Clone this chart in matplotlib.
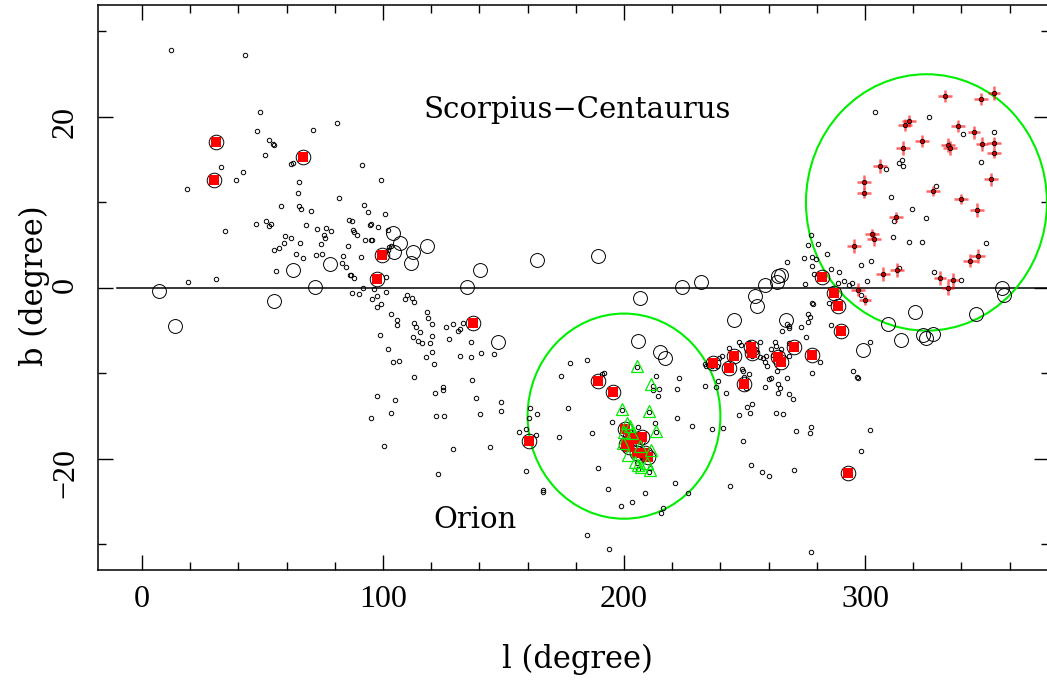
import matplotlib
matplotlib.use('Agg')
import matplotlib.pyplot as plt
from matplotlib.patches import Ellipse
import numpy as np

# small open circles (l, b)
small_l = [12.0, 42.7, 49.0, 47.7, 80.9, 71.0, 52.7, 54.4, 54.8, 51.0, 32.8, 41.9, 39.0, 18.7, 62.7, 61.8,
           65.1, 64.7, 81.7, 57.7, 65.1, 66.0, 70.1, 47.3, 51.5, 52.7, 53.5, 68.0, 72.6, 76.3, 78.4, 75.5,
           75.9, 59.3, 61.8, 58.9, 65.6, 74.3, 54.8, 56.8, 85.5, 63.9, 66.8, 72.2, 74.7, 83.4, 83.0, 84.6,
           55.6, 34.4, 19.1, 30.7, 86.3, 85.9,
           91.3, 99.2, 92.1, 93.8, 100.8, 87.1, 87.6, 88.0, 89.2, 94.6, 95.0, 97.9, 102.1, 92.5, 95.0, 95.4,
           90.9, 86.7, 88.0, 101.2, 102.1, 102.5, 103.3, 96.3, 87.1, 90.0, 91.7, 97.5, 101.2, 110.0, 112.0,
           277.6, 276.3, 280.5, 267.6, 274.7, 278.0, 279.7, 284.2, 278.0, 278.8, 275.1, 285.9, 289.2, 288.8,
           291.3, 293.4, 294.6,
           304.1, 326.6, 340.7, 353.5, 348.1, 315.4, 314.1, 315.8, 308.7, 329.5, 310.8, 319.5, 325.3, 312.0,
           311.6, 318.3, 323.7, 350.2, 302.5, 298.3, 300.8, 314.1, 328.6, 339.8, 298.3, 278.0, 278.4, 285.0,
           285.9, 276.3, 277.2, 273.4, 276.3, 268.5, 267.6, 265.6, 275.5, 302.1,
           95.4, 99.2, 97.5, 109.1, 112.9, 103.3, 105.8, 105.8, 98.8, 102.1, 104.1, 106.6, 112.4, 114.5, 116.2,
           112.9, 113.7, 115.4, 118.3, 118.7, 120.3, 119.5, 120.3, 120.3, 117.8, 121.2, 112.9, 97.5, 105.0,
           103.3, 95.0, 100.4, 122.8, 121.6, 124.9, 124.9, 125.3, 122.0, 126.1, 129.0, 127.4, 131.1, 132.0,
           133.2, 136.5, 140.7, 146.1, 136.5, 132.0, 136.9, 138.6, 140.2, 149.0, 149.0, 144.4, 129.0, 156.4,
           159.3, 161.0, 160.6, 163.9, 163.5, 159.3, 166.4, 166.4, 173.0, 176.8, 173.9, 177.6, 184.6, 186.7,
           189.2, 193.4, 198.8, 203.3, 208.7, 184.6, 193.8, 190.9, 191.7, 195.0, 213.3, 212.0, 212.0, 214.5,
           214.1, 222.8, 222.0, 222.0, 228.2, 221.2, 226.6, 216.2, 215.4, 205.4, 210.4, 199.2, 213.3, 205.8,
           208.7, 205.4, 210.8, 210.4, 205.8,
           247.7, 248.5, 243.6, 240.7, 239.4, 233.6, 234.0, 236.5, 238.6, 238.2, 233.6, 242.3, 239.0, 251.9,
           256.4, 262.7, 263.1, 265.1, 268.5, 268.5, 261.0, 258.9, 258.5, 259.3, 261.0, 260.2, 263.5, 263.9,
           264.7, 263.9, 263.1, 266.0, 268.5, 270.1, 267.6, 251.9, 249.0, 249.4, 251.0, 253.1, 252.3, 247.7,
           250.6, 271.4, 277.2, 277.6, 278.0, 281.3, 295.0, 296.7, 297.1, 302.1, 298.3, 249.4, 252.7, 257.3,
           260.2, 270.5, 244.0, 277.6, 241.1, 236.5, 212.9, 256.4, 257.7, 244.8, 242.7, 249.8, 253.1, 254.8,
           261.8, 258.5, 268.5]
small_b = [27.8, 27.3, 20.6, 18.4, 19.3, 18.5, 17.3, 16.8, 16.7, 15.6, 14.1, 13.6, 12.6, 11.6, 14.6, 14.5,
           12.4, 11.1, 10.5, 9.6, 9.6, 9.2, 9.0, 7.5, 7.8, 7.3, 7.5, 7.4, 6.9, 7.0, 6.7, 6.2,
           5.8, 6.1, 5.8, 5.3, 5.3, 5.1, 4.4, 4.7, 4.9, 4.0, 3.5, 3.9, 4.0, 3.7, 2.9, 2.5,
           2.0, 6.7, 0.7, 1.1, 1.5, 8.0,
           14.4, 12.6, 9.7, 8.9, 8.7, 7.8, 6.8, 6.5, 6.2, 7.4, 7.5, 7.1, 6.8, 5.6, 5.6, 5.6,
           3.6, 1.5, 1.2, 1.3, 4.4, 4.8, 4.9, -0.1, -0.6, -0.7, 0.0, -0.9, -0.5, -0.8, -1.2,
           6.2, 5.0, 5.1, 3.0, 3.5, 3.6, 3.4, 4.0, 2.6, 1.6, 0.5, 2.2, 1.9, 0.6,
           0.8, 0.4, 0.6,
           20.6, 20.0, 18.0, 18.2, 14.7, 15.0, 14.6, 14.3, 13.9, 11.9, 10.6, 9.2, 8.2, 7.8,
           6.0, 5.4, 5.4, 5.3, 3.2, 2.7, 0.8, 2.3, 1.9, 0.9, -0.8, -1.8, -1.9, -1.8,
           -4.3, -3.0, -3.4, -4.6, -4.0, -4.4, -4.2, -5.0, -5.7, -6.3,
           -1.3, -1.9, -2.2, -1.3, -1.6, -3.0, -3.7, -4.3, -5.5, -7.1, -8.7, -8.5, -5.7, -6.2, -6.4,
           -4.1, -4.6, -5.1, -2.8, -3.5, -4.2, -6.5, -5.6, -7.5, -8.1, -8.9, -10.4, -12.6, -13.1,
           -14.6, -15.2, -18.5, -21.8, -12.3, -11.6, -11.9, -15.0, -15.0, -4.6, -4.2, -6.0, -5.0, -4.8,
           -4.1, -6.3, -7.6, -7.7, -8.1, -8.0, -10.8, -12.9, -14.7, -13.3, -14.4, -18.6, -18.9, -16.8,
           -16.5, -14.0, -15.2, -14.7, -17.2, -21.4, -23.6, -23.9, -17.4, -14.0, -10.3, -8.8, -8.4, -17.0,
           -21.1, -23.5, -25.5, -25.0, -24.0, -28.9, -30.5, -10.1, -9.9, -15.7, -10.3, -11.5, -11.9, -11.8,
           -12.6, -10.5, -11.8, -15.2, -16.1, -22.8, -24.0, -25.7, -26.3, -9.2, -14.5, -14.3, -16.8, -16.3,
           -19.9, -20.5, -21.1, -21.5, -21.2,
           -6.3, -6.7, -7.0, -8.0, -8.2, -8.9, -9.1, -9.1, -9.1, -11.6, -11.5, -12.3, -10.9, -6.5,
           -6.3, -6.3, -6.8, -7.1, -6.4, -8.0, -7.1, -8.0, -8.7, -9.1, -10.5, -10.6, -9.7, -11.2,
           -11.7, -12.3, -14.6, -14.7, -12.4, -13.0, -10.5, -10.1, -9.5, -9.7, -13.9, -13.6, -14.6, -14.9,
           -11.7, -16.7, -17.0, -16.3, -9.9, -8.7, -9.7, -10.4, -10.5, -16.6, -19.1, -17.9, -20.7, -21.5,
           -22.0, -21.3, -23.2, -30.9, -16.4, -16.5, -15.8, -8.1, -8.2, -8.1, -9.2, -10.4, -8.0, -7.5,
           -7.8, -11.6, -4.7]

# large open circles
big_l = [7.1, 13.7, 54.8, 62.7, 71.8, 78.2, 104.1, 107.0, 104.6, 112.4, 111.6, 118.3, 140.2, 134.9, 163.9,
         189.2, 206.6, 224.0, 232.0, 147.7, 205.8, 214.9, 217.0, 258.5, 263.5, 264.0, 265.0, 254.4, 255.2,
         245.6, 267.2, 299.2, 309.5, 314.9, 320.7, 324.0, 325.3, 328.2, 346.0, 356.8, 357.7]
big_b = [-0.4, -4.4, -1.5, 2.1, 0.1, 2.8, 6.4, 5.3, 4.2, 4.2, 2.9, 4.9, 2.1, 0.1, 3.3,
         3.7, -1.2, 0.1, 0.7, -6.3, -6.2, -7.5, -8.2, 0.4, 0.7, 1.4, 1.5, -1.0, -2.1,
         -3.7, -3.7, -7.3, -4.2, -6.1, -2.8, -5.5, -5.8, -5.4, -3.0, 0.0, -0.8]

# red squares (each inside a circle)
sq_l = [30.7, 29.9, 66.8, 99.6, 97.5, 137.4, 160.6, 189.2, 195.4, 200.4, 202.5, 205.8, 207.5, 200.8,
        202.1, 205.4, 208.7, 210.0, 282.2, 287.0, 288.8, 290.0, 270.5, 278.0, 263.9, 265.1, 252.7,
        253.1, 245.6, 243.6, 236.9, 249.8, 293.0]
sq_b = [17.1, 12.6, 15.3, 3.8, 1.0, -4.1, -17.9, -10.9, -12.2, -16.5, -17.4, -17.7, -17.4, -18.3,
        -18.6, -19.3, -19.3, -19.8, 1.3, -0.6, -2.1, -5.0, -6.9, -7.8, -8.1, -8.7, -6.9,
        -7.6, -8.0, -9.4, -8.8, -11.2, -21.6]

# Orion triangles
tri_l = [205.4, 211.2, 199.2, 210.4, 213.3, 201.2, 199.6, 201.7, 204.6, 209.5, 210.8, 205.8, 200.0,
         203.5, 206.5, 211.0, 207.0, 202.5]
tri_b = [-9.1, -11.2, -14.2, -14.4, -16.7, -15.8, -18.1, -19.5, -20.4, -20.5, -21.3, -20.7, -16.8,
         -17.0, -18.5, -19.0, -21.0, -16.2]

# Sco-Cen members with errors
sc_l = [333.2, 348.1, 353.5, 318.3, 316.6, 338.6, 345.2, 323.7, 334.4, 335.3, 348.5, 353.5, 353.5,
        315.8, 306.2, 352.3, 299.6, 299.6, 328.2, 339.8, 346.5, 312.9, 302.9, 303.7, 295.4, 346.9,
        343.6, 313.3, 307.5, 331.1, 336.5, 334.4, 297.1, 300.0]
sc_b = [22.5, 22.1, 22.8, 19.5, 19.1, 18.9, 18.2, 17.2, 16.7, 16.4, 16.8, 17.0, 15.8,
        16.4, 14.3, 12.7, 12.4, 11.1, 11.3, 10.4, 9.1, 8.3, 6.3, 5.7, 4.9, 3.7,
        3.2, 2.1, 1.6, 1.2, 0.9, 0.0, -0.2, -1.4]
sc_lerr = [2.8, 3.0, 2.5, 2.8, 2.8, 2.8, 2.5, 2.8, 2.8, 2.8, 2.5, 2.8, 2.8,
           2.8, 2.8, 2.8, 2.8, 2.8, 2.8, 2.8, 2.8, 2.8, 2.8, 2.8, 2.8, 2.8,
           2.8, 2.8, 2.8, 2.5, 2.5, 2.5, 2.8, 2.5]
sc_berr = [0.7, 0.7, 0.8, 0.7, 0.7, 0.7, 0.8, 0.7, 0.8, 0.8, 0.8, 0.6, 0.6,
           0.8, 0.8, 0.8, 0.8, 0.6, 0.6, 0.6, 0.8, 0.6, 0.6, 0.8, 0.8, 0.8,
           0.8, 0.8, 0.8, 0.8, 0.8, 0.8, 0.8, 0.6]

plt.rcParams['font.family'] = ['DejaVu Serif']

fig = plt.figure(figsize=(10.47, 6.81), dpi=100)
ax = fig.add_axes([98 / 1047, 1 - 570 / 681, (1049 - 98) / 1047, 565 / 681])

# galactic plane
ax.plot([-10.4, 400], [0, 0], color='black', lw=1.1, zorder=1)

ax.add_patch(Ellipse((200, -15), 80, 24, fill=False, ec='#00ee00', lw=1.5, zorder=2))
ax.add_patch(Ellipse((325.5, 10), 100, 30, fill=False, ec='#00ee00', lw=1.5, zorder=2))

ax.plot(small_l, small_b, 'o', ms=3.2, mfc='none', mec='black', mew=0.7, zorder=3)
ax.plot(big_l, big_b, 'o', ms=10, mfc='none', mec='black', mew=0.7, zorder=3)
ax.plot(sq_l, sq_b, 'o', ms=10.5, mfc='none', mec='black', mew=0.7, zorder=4)
ax.plot(sq_l, sq_b, 's', ms=7, mfc='red', mec='red', mew=0, zorder=5)
ax.plot(tri_l, tri_b, '^', ms=9, mfc='none', mec='#00ee00', mew=0.9, zorder=6)

ax.errorbar(sc_l, sc_b, xerr=sc_lerr, yerr=sc_berr, fmt='none', ecolor='red', elinewidth=1.8,
            alpha=0.6, capsize=0, zorder=6)
ax.plot(sc_l, sc_b, 'o', ms=3.2, mfc='#cc0000', mec='black', mew=0.6, zorder=7)

ax.text(180.7, 19.9, 'Scorpius\u2212Centaurus', ha='center', va='baseline', fontsize=21)
ax.text(138.2, -28.1, 'Orion', ha='center', va='baseline', fontsize=21)

ax.set_xlim((98 - 142) / 2.41, (1049 - 142) / 2.41)
ax.set_ylim(-33.0, 33.1)
ax.set_xticks([0, 100, 200, 300])
ax.set_xticks(np.arange(-0, 380, 20), minor=True)
ax.set_yticks([-20, 0, 20])
ax.set_yticks([-30, -10, 10, 30], minor=True)

ax.tick_params(which='both', direction='in', top=True, right=True, width=1.0)
ax.tick_params(which='major', length=10.8)
ax.tick_params(which='minor', length=5.8)
ax.tick_params(axis='x', pad=11)
ax.tick_params(axis='y', pad=13, labelrotation=90)
for lab in ax.get_xticklabels() + ax.get_yticklabels():
    lab.set_family('Liberation Serif')
    lab.set_fontsize(23)
for sp in ax.spines.values():
    sp.set_linewidth(1.1)

ax.set_xlabel('l (degree)', fontsize=22)
ax.set_ylabel('b (degree)', fontsize=22)
ax.xaxis.set_label_coords(0.504, -0.13)
ax.yaxis.set_label_coords(-0.05, 0.503)

fig.savefig('out.png', dpi=100)
